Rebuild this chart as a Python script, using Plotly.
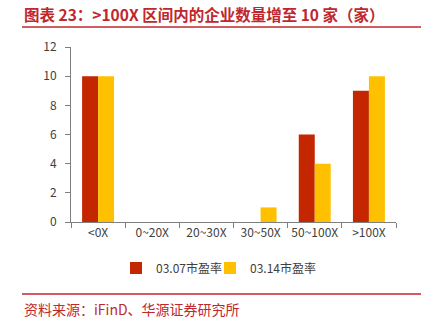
import plotly.graph_objects as go

categories = ["<0X", "0~20X", "20~30X", "30~50X", "50~100X", ">100X"]
series_0307 = [10, 0, 0, 0, 6, 9]
series_0314 = [10, 0, 0, 1, 4, 10]
series_names = ["03.07市盈率", "03.14市盈率"]
y_ticks = [0, 2, 4, 6, 8, 10, 12]
title_text = "图表 23：>100X 区间内的企业数量增至 10 家（家）"
source_text = "资料来源：iFinD、华源证券研究所"

W, H = 438, 322
L, R, T, B = 71, 396, 47, 222
pw, ph = R - L, B - T

def px(x):
    return (x - L) / pw

def py(y):
    return (B - y) / ph

FONT = "Noto Sans CJK SC"
RED_T = "#C0272D"

fig = go.Figure()
fig.add_trace(go.Bar(x=categories, y=series_0307, name=series_names[0], legend="legend",
                     marker=dict(color="#C42600", line=dict(width=0))))
fig.add_trace(go.Bar(x=categories, y=series_0314, name=series_names[1], legend="legend2",
                     marker=dict(color="#FFC000", line=dict(width=0))))

leg_common = dict(orientation="h", yanchor="middle", xanchor="left",
                  font=dict(size=12, color="#404040"), itemwidth=30,
                  bgcolor="rgba(0,0,0,0)")

fig.update_layout(
    width=W, height=H,
    margin=dict(l=L, r=W - R, t=T, b=H - B, pad=0),
    paper_bgcolor="white", plot_bgcolor="white",
    barmode="group", bargap=0.41, bargroupgap=0,
    font=dict(family=FONT, size=12, color="#404040"),
    showlegend=True,
    legend=dict(x=px(116), y=py(268), **leg_common),
    legend2=dict(x=px(210), y=py(268), **leg_common),
    xaxis=dict(type="category", showline=True, linecolor="#7F7F7F", linewidth=1,
               ticks="outside", ticklen=5, tickcolor="#7F7F7F", tickson="boundaries",
               tickangle=0, showgrid=False, tickfont=dict(size=12, color="#404040"),
               fixedrange=True),
    yaxis=dict(range=[0, 12], tickvals=y_ticks, showline=True, linecolor="#7F7F7F", linewidth=1,
               ticks="outside", ticklen=5, tickcolor="#7F7F7F", showgrid=False, zeroline=False,
               tickfont=dict(size=12, color="#404040"), ticklabelstandoff=6),
)

fig.add_annotation(text="<b>" + title_text + "</b>", xref="paper", yref="paper",
                   x=px(22), y=py(14), xanchor="left", yanchor="middle", showarrow=False,
                   font=dict(family=FONT, size=15.5, color=RED_T))
fig.add_annotation(text=source_text, xref="paper", yref="paper",
                   x=px(22), y=py(309), xanchor="left", yanchor="middle", showarrow=False,
                   font=dict(family=FONT, size=14, color=RED_T))
for yy in (27, 294):
    fig.add_shape(type="line", xref="paper", yref="paper", x0=px(22), x1=px(421),
                  y0=py(yy), y1=py(yy), line=dict(color=RED_T, width=1.5))

fig.write_html("out.html")
